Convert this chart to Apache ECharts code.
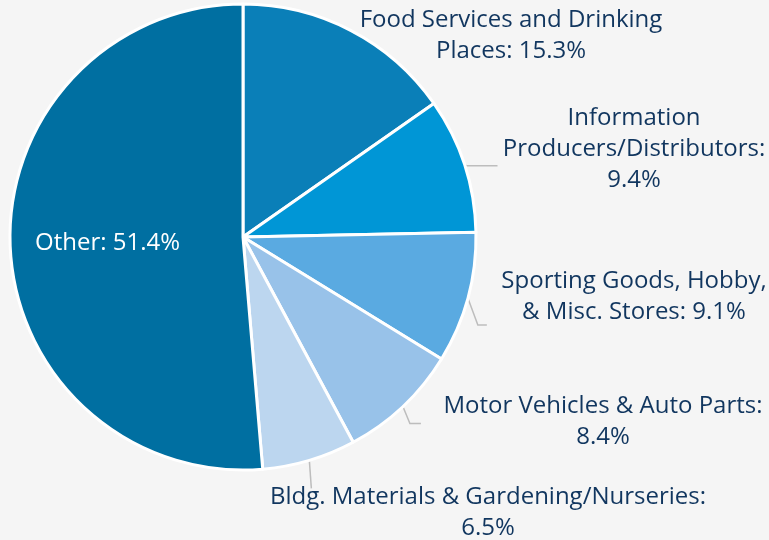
<!DOCTYPE html>
<html>
<head>
<meta charset="utf-8">
<script src="https://cdn.jsdelivr.net/npm/echarts@6/dist/echarts.min.js"></script>
<style>
  html, body { margin: 0; padding: 0; background: #f5f5f5; }
  #main { width: 769px; height: 540px; }
</style>
</head>
<body>
<div id="main"></div>
<script>
// slice names, shown labels and shares (%)
var names = [
  'Food Services and Drinking Places',
  'Information Producers/Distributors',
  'Sporting Goods, Hobby, & Misc. Stores',
  'Motor Vehicles & Auto Parts',
  'Bldg. Materials & Gardening/Nurseries',
  'Other'
];
var labelText = [
  'Food Services and Drinking\nPlaces: 15.3%',
  'Information\nProducers/Distributors:\n9.4%',
  'Sporting Goods, Hobby,\n& Misc. Stores: 9.1%',
  'Motor Vehicles & Auto Parts:\n8.4%',
  'Bldg. Materials & Gardening/Nurseries:\n6.5%',
  'Other: 51.4%'
];
var shares = [15.3, 9.4, 9.1, 8.4, 6.5, 51.4];
var colors = ['#0a7fb8', '#0096d6', '#5aaae1', '#98c2e9', '#bcd6ef', '#006fa1'];

var center = [243, 237];
var radius = 233;

// where each label sits (center of text block)
var labelPos = [
  {x: 511, y: 36, align: 'center'},
  {x: 634, y: 149, align: 'center'},
  {x: 634, y: 297, align: 'center'},
  {x: 603, y: 422, align: 'center'},
  {x: 488, y: 513, align: 'center'},
  {x: 35, y: 243, align: 'left'}
];
// leader line elbow / end, offset from the slice edge point
var leader = [
  null,
  [[2, 1], [33, 1]],
  [[10, 27], [19, 27]],
  [[7, 17], [18, 17]],
  [[2, 28], [2, 28]],
  null
];

var total = shares.reduce(function (a, b) { return a + b; }, 0);
function edgePoint(i) {
  var before = 0;
  for (var k = 0; k < i; k++) before += shares[k];
  var mid = (before + shares[i] / 2) / total * Math.PI * 2;
  return [center[0] + radius * Math.sin(mid), center[1] - radius * Math.cos(mid)];
}

var chart = echarts.init(document.getElementById('main'));

var data = shares.map(function (v, i) {
  var item = {
    name: names[i],
    value: v,
    itemStyle: {color: colors[i]},
    label: {formatter: labelText[i]}
  };
  if (!leader[i]) {
    item.labelLine = {show: false};
  }
  if (i === 5) {
    item.label.position = 'inside';
    item.label.color = '#ffffff';
  }
  return item;
});

var option = {
  backgroundColor: '#f5f5f5',
  animation: false,
  series: [
    {
      type: 'pie',
      center: center,
      radius: radius,
      startAngle: 90,
      clockwise: true,
      itemStyle: {borderColor: '#ffffff', borderWidth: 3},
      label: {
        show: true,
        position: 'outside',
        alignTo: 'none',
        overflow: 'none',
        color: '#11365f',
        fontFamily: 'Open Sans',
        fontSize: 24,
        lineHeight: 31,
        align: 'center'
      },
      labelLine: {
        show: true,
        length: 12,
        length2: 10,
        lineStyle: {color: '#bdbdbd', width: 1.5}
      },
      labelLayout: function (params) {
        var i = params.dataIndex;
        var p = labelPos[i];
        var out = {x: p.x, y: p.y, align: p.align, verticalAlign: 'middle', width: 600};
        if (leader[i]) {
          var e = edgePoint(i);
          out.labelLinePoints = [
            e,
            [e[0] + leader[i][0][0], e[1] + leader[i][0][1]],
            [e[0] + leader[i][1][0], e[1] + leader[i][1][1]]
          ];
        }
        return out;
      },
      data: data
    }
  ]
};

chart.setOption(option);
</script>
</body>
</html>
